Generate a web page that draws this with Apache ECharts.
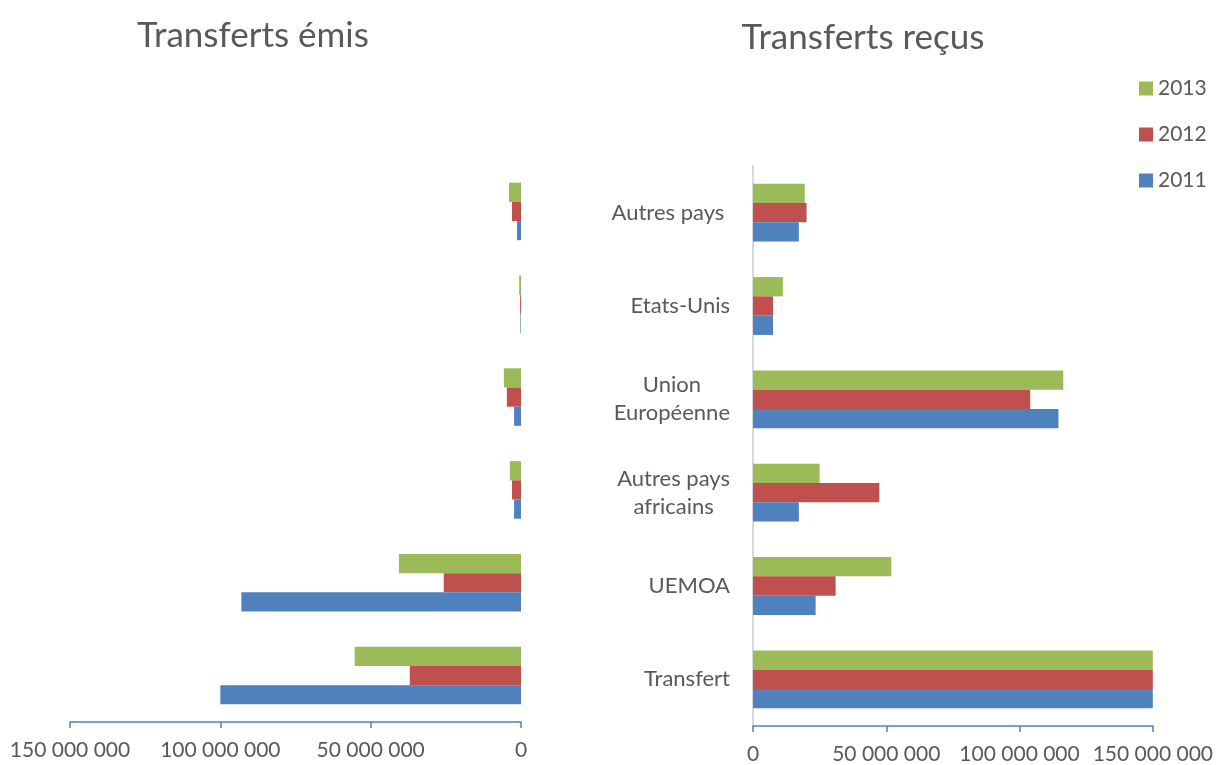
<!DOCTYPE html>
<html>
<head>
<meta charset="utf-8">
<script src="https://cdn.jsdelivr.net/npm/echarts@6/dist/echarts.min.js"></script>
<style>html,body{margin:0;padding:0;background:#fff}#c{width:1216px;height:765px}</style>
</head>
<body>
<div id="c"></div>
<script>
const categories = ['Transfert', 'UEMOA', 'Autres pays\nafricains', 'Union\nEuropéenne', 'Etats-Unis', 'Autres pays '];
const years = ['2013', '2012', '2011'];
// Transferts émis
const emis2011 = [100000000, 93000000, 2300000, 2300000, 200000, 1300000];
const emis2012 = [37000000, 25700000, 3000000, 4700000, 300000, 3000000];
const emis2013 = [55300000, 40600000, 3700000, 5700000, 600000, 4000000];
// Transferts reçus
const recus2011 = [150000000, 23500000, 17200000, 114600000, 7500000, 17200000];
const recus2012 = [150000000, 31000000, 47400000, 104000000, 7500000, 20100000];
const recus2013 = [150000000, 51900000, 25000000, 116400000, 11200000, 19400000];
const xTicks = [0, 50000000, 100000000, 150000000];

const colors = {'2011': '#4F81BD', '2012': '#C0504D', '2013': '#9BBB59'};
const font = 'Lato, Open Sans, sans-serif';
const grey = '#595959';
const fmt = v => String(v).replace(/\B(?=(\d{3})+(?!\d))/g, ' ');

const chart = echarts.init(document.getElementById('c'));
const emis = {'2011': emis2011, '2012': emis2012, '2013': emis2013};
const recus = {'2011': recus2011, '2012': recus2012, '2013': recus2013};
const series = [];
years.forEach(y => {
  series.push({name: y, type: 'bar', xAxisIndex: 0, yAxisIndex: 0, data: emis[y],
    itemStyle: {color: colors[y]}, barGap: '0%', barCategoryGap: '38%'});
});
years.forEach(y => {
  series.push({name: y, type: 'bar', xAxisIndex: 1, yAxisIndex: 1, data: recus[y],
    itemStyle: {color: colors[y]}, barGap: '0%', barCategoryGap: '38%'});
});
const xAxisBase = {
  type: 'value', min: xTicks[0], max: xTicks[xTicks.length - 1], interval: 50000000,
  splitLine: {show: false},
  axisLine: {show: true, lineStyle: {color: '#4F81BD', width: 1.5}},
  axisTick: {show: true, inside: false, length: 6, lineStyle: {color: '#4F81BD', width: 1.5}},
  axisLabel: {color: grey, fontSize: 21, fontFamily: font, margin: 18, formatter: fmt}
};
chart.setOption({
  animation: false,
  textStyle: {fontFamily: font},
  title: [
    {text: 'Transferts émis', left: 248, top: 13, textAlign: 'center',
     textStyle: {fontSize: 35, fontWeight: 'normal', color: grey, fontFamily: font}},
    {text: 'Transferts reçus', left: 858, top: 15, textAlign: 'center',
     textStyle: {fontSize: 35, fontWeight: 'normal', color: grey, fontFamily: font}}
  ],
  legend: {
    data: ['2013', '2012', '2011'], orient: 'vertical', left: 1134, top: 73,
    itemWidth: 14, itemHeight: 14, itemGap: 25, icon: 'rect',
    textStyle: {color: grey, fontSize: 21, fontFamily: font}
  },
  grid: [
    {left: 70, right: 695, top: 165, bottom: 43},
    {left: 753, right: 63, top: 166, bottom: 37}
  ],
  xAxis: [
    Object.assign({}, xAxisBase, {gridIndex: 0, inverse: true}),
    Object.assign({}, xAxisBase, {gridIndex: 1})
  ],
  yAxis: [
    {type: 'category', gridIndex: 0, data: categories, axisLine: {show: false},
     axisTick: {show: false}, axisLabel: {show: false}},
    {type: 'category', gridIndex: 1, data: categories,
     axisLine: {show: true, lineStyle: {color: '#D9D9D9', width: 2}},
     axisTick: {show: false},
     axisLabel: {color: grey, fontSize: 22, fontFamily: font, margin: 23, lineHeight: 28,
       formatter: v => v.split('\n').map(l => '{c|' + l + '}').join('\n'),
       rich: {c: {align: 'center', fontSize: 22, color: grey, fontFamily: font, lineHeight: 28}}}}
  ],
  series: series
});
</script>
</body>
</html>
